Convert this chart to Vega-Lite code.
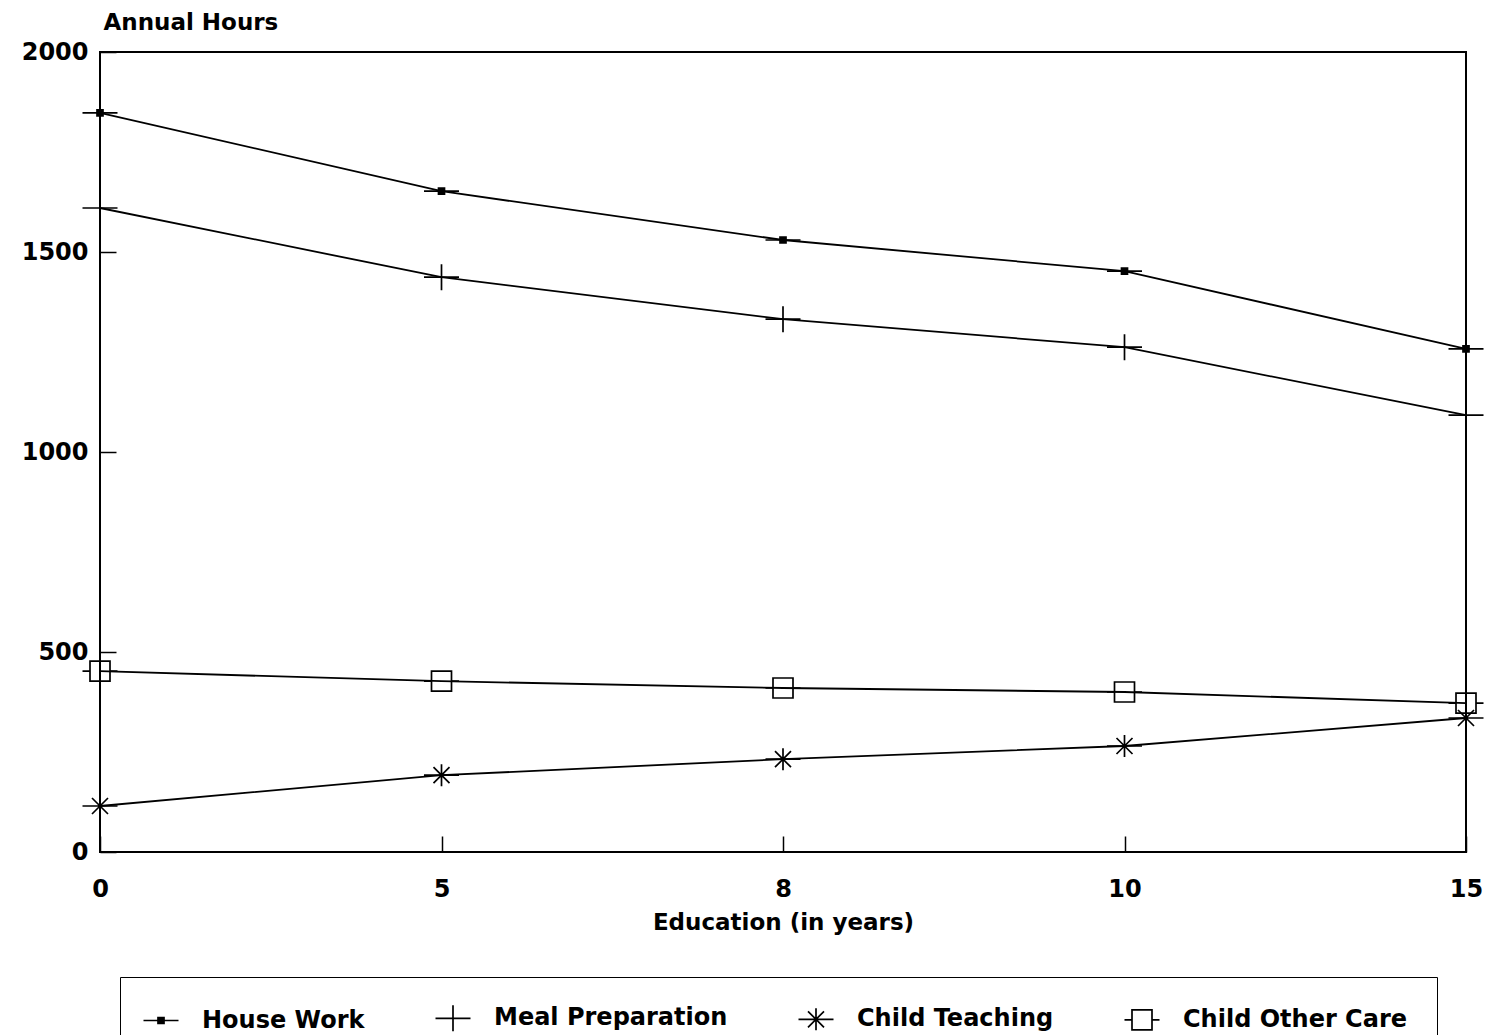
{
  "$schema": "https://vega.github.io/schema/vega-lite/v6.json",
  "autosize": "none",
  "padding": {"left": 100, "top": 52, "right": 21, "bottom": 183},
  "width": 1366,
  "height": 800,
  "background": "white",
  "config": {
    "view": {"stroke": "black", "strokeWidth": 2},
    "font": "DejaVu Sans",
    "axis": {
      "labelFont": "DejaVu Sans", "labelFontWeight": "bold", "labelFontSize": 24, "labelColor": "black",
      "titleFont": "DejaVu Sans", "titleFontWeight": "bold", "titleFontSize": 23, "titleColor": "black",
      "domain": false, "grid": false, "tickColor": "black", "tickWidth": 1.5
    }
  },
  "data": {
    "values": [
      {"edu": "0", "series": "House Work", "hours": 1848},
      {"edu": "5", "series": "House Work", "hours": 1652},
      {"edu": "8", "series": "House Work", "hours": 1530},
      {"edu": "10", "series": "House Work", "hours": 1452},
      {"edu": "15", "series": "House Work", "hours": 1258},
      {"edu": "0", "series": "Meal Preparation", "hours": 1610},
      {"edu": "5", "series": "Meal Preparation", "hours": 1437},
      {"edu": "8", "series": "Meal Preparation", "hours": 1332},
      {"edu": "10", "series": "Meal Preparation", "hours": 1262},
      {"edu": "15", "series": "Meal Preparation", "hours": 1092},
      {"edu": "0", "series": "Child Teaching", "hours": 115},
      {"edu": "5", "series": "Child Teaching", "hours": 192},
      {"edu": "8", "series": "Child Teaching", "hours": 232},
      {"edu": "10", "series": "Child Teaching", "hours": 265},
      {"edu": "15", "series": "Child Teaching", "hours": 335},
      {"edu": "0", "series": "Child Other Care", "hours": 452},
      {"edu": "5", "series": "Child Other Care", "hours": 427},
      {"edu": "8", "series": "Child Other Care", "hours": 410},
      {"edu": "10", "series": "Child Other Care", "hours": 400},
      {"edu": "15", "series": "Child Other Care", "hours": 372}
    ]
  },
  "encoding": {
    "x": {
      "field": "edu", "type": "ordinal", "sort": ["0", "5", "8", "10", "15"],
      "scale": {"type": "point", "padding": 0},
      "axis": {
        "title": "Education (in years)", "labelAngle": 0, "tickSize": -16, "labelPadding": 41,
        "titleBaseline": "alphabetic", "titleY": 77
      }
    },
    "y": {
      "field": "hours", "type": "quantitative",
      "scale": {"domain": [0, 2000], "nice": false, "zero": true},
      "axis": {
        "title": "Annual Hours", "values": [0, 500, 1000, 1500, 2000], "format": "d", "tickSize": -16, "labelPadding": 28,
        "titleAngle": 0, "titleAlign": "left", "titleBaseline": "alphabetic", "titleX": 3, "titleY": -23
      }
    }
  },
  "layer": [
    {
      "mark": {"type": "line", "color": "black", "strokeWidth": 1.8},
      "encoding": {"detail": {"field": "series"}}
    },
    {
      "mark": {"type": "point", "filled": false, "color": "black", "strokeWidth": 1.7, "size": 100, "opacity": 1},
      "encoding": {
        "shape": {
          "field": "series", "type": "nominal",
          "scale": {
            "domain": ["House Work", "Meal Preparation", "Child Teaching", "Child Other Care"],
            "range": [
              "M-3.5,0H3.5M-0.6,-0.6H0.6V0.6H-0.6ZM-0.6,-0.3H0.6M-0.6,0.3H0.6",
              "M-3.5,0H3.5M0,-2.6V2.6",
              "M-3.5,0H3.5M0,-2.2V2.2M-1.6,-1.6L1.6,1.6M-1.6,1.6L1.6,-1.6",
              "M-2,-2H2V2H-2ZM-3.5,0H-2M2,0H3.5"
            ]
          },
          "legend": {
            "title": null, "orient": "none", "direction": "horizontal", "columns": 4,
            "legendX": 20, "legendY": 925, "padding": 29,
            "strokeColor": "black", "fillColor": "white",
            "symbolSize": 100, "symbolStrokeWidth": 1.7, "symbolStrokeColor": "black", "symbolFillColor": "transparent",
            "labelFont": "DejaVu Sans", "labelFontWeight": "bold", "labelFontSize": 24, "labelColor": "black",
            "labelOffset": 29, "columnPadding": 67, "labelLimit": 400
          }
        }
      }
    }
  ]
}
